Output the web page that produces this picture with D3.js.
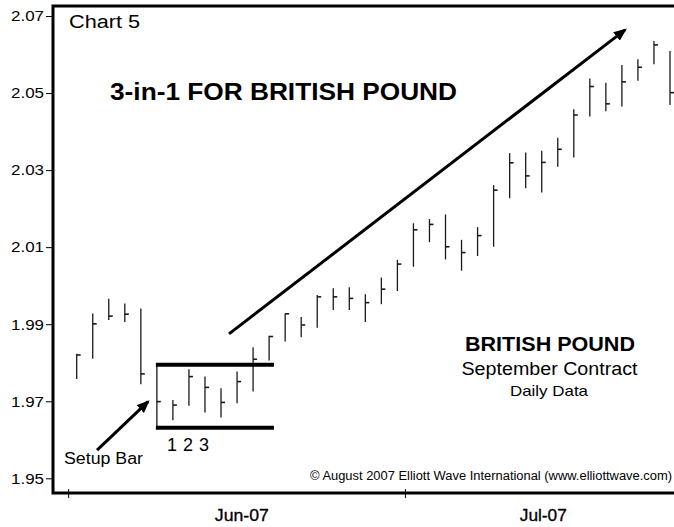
<!DOCTYPE html>
<html lang="en">
<head>
<meta charset="UTF-8">
<title>3-in-1 for British Pound</title>
<script src="https://d3js.org/d3.v7.min.js"></script>
<style>
  body { margin: 0; background: #fff; }
  svg { display: block; font-family: "Liberation Sans", Arial, sans-serif; }
</style>
</head>
<body>
<div id="chart"></div>
<script>
// September British pound contract, daily bars (Jun 1 - Jul 25, 2007)
const dates = ["06-01","06-04","06-05","06-06","06-07","06-08","06-11","06-12","06-13","06-14",
               "06-15","06-18","06-19","06-20","06-21","06-22","06-25","06-26","06-27","06-28",
               "06-29","07-02","07-03","07-05","07-06","07-09","07-10","07-11","07-12","07-13",
               "07-16","07-17","07-18","07-19","07-20","07-23","07-24","07-25"];
const highs  = [1.9823,1.9928,1.9966,1.9954,1.9941,1.9795,1.9703,1.9783,1.9764,1.9734,
                1.9777,1.9840,1.9870,1.9928,1.9919,1.9976,1.9993,1.9996,1.9978,2.0021,
                2.0067,2.0162,2.0173,2.0185,2.0119,2.0152,2.0261,2.0344,2.0346,2.0350,
                2.0384,2.0458,2.0538,2.0527,2.0573,2.0588,2.0635,2.0609];
const lows   = [1.9758,1.9810,1.9911,1.9906,1.9744,1.9631,1.9651,1.9688,1.9671,1.9658,
                1.9695,1.9725,1.9806,1.9855,1.9866,1.9891,1.9937,1.9937,1.9906,1.9952,
                1.9986,2.0049,2.0113,2.0068,2.0039,2.0077,2.0101,2.0227,2.0253,2.0242,
                2.0309,2.0333,2.0439,2.0453,2.0465,2.0532,2.0575,2.0469];
const closes = [1.9820,1.9901,1.9921,1.9926,1.9771,1.9699,1.9690,1.9764,1.9736,1.9697,
                1.9751,1.9809,1.9868,1.9927,1.9898,1.9971,1.9971,1.9967,1.9956,1.9991,
                2.0056,2.0145,2.0159,2.0101,2.0086,2.0130,2.0248,2.0319,2.0285,2.0320,
                2.0354,2.0443,2.0517,2.0472,2.0529,2.0567,2.0625,2.0501];

const yTicks = [1.95, 1.97, 1.99, 2.01, 2.03, 2.05, 2.07];
const monthBreaks = [-0.5, 20.5];          // boundaries between months (bar index)
const monthLabels = ["Jun-07", "Jul-07"];
const monthLabelAt = [10.3, 29.1];

const setupIndex = 5;                       // setup bar, box runs to boxEnd
const boxEnd = 12.3;
const countLabels = ["1", "2", "3"];
const trendArrow = [[9.5, 1.9875], [34.2, 2.0664]];
const setupArrow = [[1.27, 1.9573], [4.45, 1.9699]];

const W = 674, H = 527;
const frameLeft = 53, frameTop = 6, frameBottom = 493;

const svg = d3.select("#chart").append("svg")
    .attr("width", W)
    .attr("height", H);

const x = d3.scaleLinear().domain([0, dates.length - 1]).range([76.7, 670]);
const y = d3.scaleLinear().domain([1.95, 2.07]).range([478.3, 16]);

const defs = svg.append("defs");
defs.append("marker")
    .attr("id", "head")
    .attr("markerUnits", "userSpaceOnUse")
    .attr("viewBox", "0 0 12 10")
    .attr("refX", 10).attr("refY", 5)
    .attr("markerWidth", 13).attr("markerHeight", 11)
    .attr("orient", "auto")
  .append("path")
    .attr("d", "M0,0L12,5L0,10Z")
    .attr("fill", "#000");

// stretch a text to the width it has in the picture
const fit = (sel, w) => sel.attr("textLength", w).attr("lengthAdjust", "spacingAndGlyphs");

// y axis ticks and labels
const yAxis = svg.append("g")
    .attr("transform", `translate(${frameLeft},0)`)
    .call(d3.axisLeft(y).tickValues(yTicks).tickFormat(d3.format(".2f")).tickSize(7).tickPadding(2));
yAxis.select(".domain").remove();
yAxis.selectAll("line").attr("stroke", "#000").attr("stroke-width", 1);
yAxis.selectAll("text")
    .attr("font-size", 15)
    .attr("fill", "#000")
    .attr("font-family", "'Liberation Sans', Arial, sans-serif")
    .call(fit, 33);

// month tick marks and labels
svg.append("g").selectAll("line")
    .data(monthBreaks)
    .join("line")
    .attr("x1", d => x(d)).attr("x2", d => x(d))
    .attr("y1", frameBottom - 4).attr("y2", frameBottom + 5)
    .attr("stroke", "#000");

svg.append("g").selectAll("text")
    .data(monthLabels)
    .join("text")
    .attr("x", (d, i) => x(monthLabelAt[i]))
    .attr("y", 521)
    .attr("text-anchor", "middle")
    .attr("font-size", 16)
    .attr("stroke", "#000")
    .attr("stroke-width", 0.3)
    .attr("textLength", (d, i) => i === 0 ? 54 : 47)
    .attr("lengthAdjust", "spacingAndGlyphs")
    .text(d => d);

// frame
svg.append("path")
    .attr("d", `M${W},${frameTop}H${frameLeft}V${frameBottom}H${W}`)
    .attr("fill", "none")
    .attr("stroke", "#000")
    .attr("stroke-width", 3);

// high-low bars with close ticks
const bars = svg.append("g").attr("stroke", "#1a1a1a");
bars.selectAll("line.hl")
    .data(dates)
    .join("line")
    .attr("class", "hl")
    .attr("x1", (d, i) => x(i)).attr("x2", (d, i) => x(i))
    .attr("y1", (d, i) => y(highs[i])).attr("y2", (d, i) => y(lows[i]))
    .attr("stroke-width", 1.3);
bars.selectAll("line.cl")
    .data(dates)
    .join("line")
    .attr("class", "cl")
    .attr("x1", (d, i) => x(i)).attr("x2", (d, i) => x(i) + 4)
    .attr("y1", (d, i) => y(closes[i])).attr("y2", (d, i) => y(closes[i]))
    .attr("stroke-width", 1.6);

// setup bar box
svg.append("g").selectAll("line")
    .data([highs[setupIndex], lows[setupIndex]])
    .join("line")
    .attr("x1", x(setupIndex) - 1).attr("x2", x(boxEnd))
    .attr("y1", d => y(d)).attr("y2", d => y(d))
    .attr("stroke", "#000")
    .attr("stroke-width", 4);

svg.append("g").selectAll("text")
    .data(countLabels)
    .join("text")
    .attr("x", (d, i) => x(setupIndex + 1 + i) - 1)
    .attr("y", y(lows[setupIndex]) + 23)
    .attr("text-anchor", "middle")
    .attr("font-size", 18)
    .text(d => d);

// arrows
[trendArrow, setupArrow].forEach(a => {
    svg.append("line")
        .attr("x1", x(a[0][0])).attr("y1", y(a[0][1]))
        .attr("x2", x(a[1][0])).attr("y2", y(a[1][1]))
        .attr("stroke", "#000")
        .attr("stroke-width", 3)
        .attr("marker-end", "url(#head)");
});

// text annotations
svg.append("text").attr("x", 69).attr("y", 28)
    .attr("font-size", 18)
    .text("Chart 5").call(fit, 71);

svg.append("text").attr("x", 110).attr("y", 100)
    .attr("font-size", 24).attr("font-weight", "bold")
    .text("3-in-1 FOR BRITISH POUND").call(fit, 347);

svg.append("text").attr("x", 64).attr("y", 464)
    .attr("font-size", 16)
    .text("Setup Bar").call(fit, 79);

const legend = svg.append("g").attr("text-anchor", "middle");
legend.append("text").attr("x", 550).attr("y", 351)
    .attr("font-size", 20).attr("font-weight", "bold")
    .text("BRITISH POUND").call(fit, 170);
legend.append("text").attr("x", 549.5).attr("y", 375)
    .attr("font-size", 18)
    .text("September Contract").call(fit, 176);
legend.append("text").attr("x", 549).attr("y", 396)
    .attr("font-size", 15)
    .text("Daily Data").call(fit, 78);

svg.append("text").attr("x", 310).attr("y", 480)
    .attr("font-size", 12)
    .text("\u00A9 August 2007 Elliott Wave International (www.elliottwave.com)").call(fit, 362);
</script>
</body>
</html>
